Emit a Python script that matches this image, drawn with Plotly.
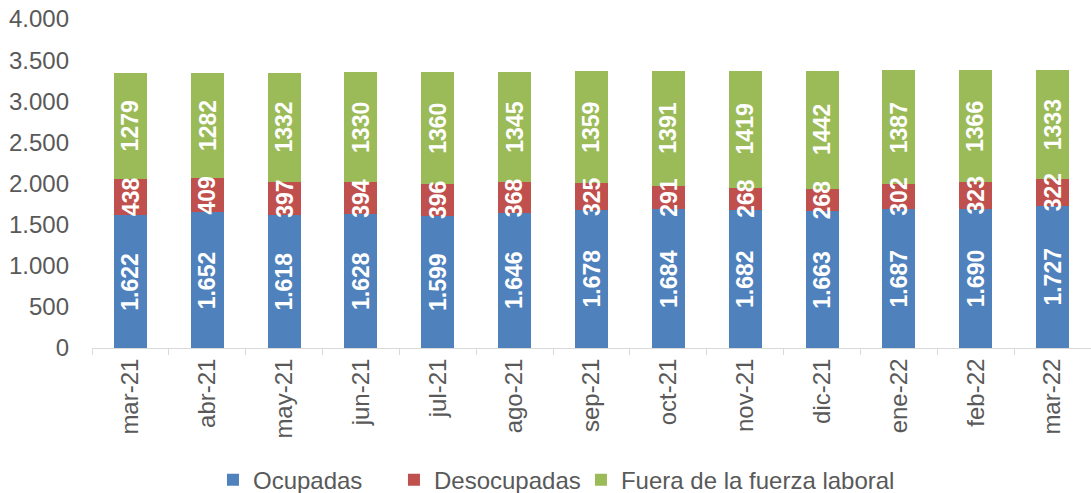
import plotly.graph_objects as go

months = ["mar-21", "abr-21", "may-21", "jun-21", "jul-21", "ago-21", "sep-21",
          "oct-21", "nov-21", "dic-21", "ene-22", "feb-22", "mar-22"]
ocupadas = [1622, 1652, 1618, 1628, 1599, 1646, 1678, 1684, 1682, 1663, 1687, 1690, 1727]
desocupadas = [438, 409, 397, 394, 396, 368, 325, 291, 268, 268, 302, 323, 322]
fuera = [1279, 1282, 1332, 1330, 1360, 1345, 1359, 1391, 1419, 1442, 1387, 1366, 1333]
y_ticks = [0, 500, 1000, 1500, 2000, 2500, 3000, 3500, 4000]

series = [
    ("Ocupadas", ocupadas, "#4F81BD", 136),
    ("Desocupadas", desocupadas, "#C0504D", 142),
    ("Fuera de la fuerza laboral", fuera, "#9BBB59", None),
]

def fmt(v):
    return f"{v:,}".replace(",", ".")

FONT = "Liberation Sans, Arial, sans-serif"
fig = go.Figure()
annotations = []
base = [0] * len(months)
for i, (name, vals, color, lw) in enumerate(series):
    fig.add_trace(go.Bar(name=name, x=months, y=vals, marker_color=color,
                         marker_line_width=0, legendwidth=lw))
    for j, (m, v) in enumerate(zip(months, vals)):
        label = fmt(v) if i == 0 else str(v)
        annotations.append(dict(x=m, y=base[j] + v / 2, text=f"<b>{label}</b>",
                                showarrow=False, textangle=-90,
                                font=dict(family=FONT, size=23, color="white")))
        base[j] += v

fig.update_layout(
    barmode="stack",
    bargap=0.57,
    width=1091, height=493,
    margin=dict(l=92, r=0, t=19, b=145, autoexpand=False),
    plot_bgcolor="white", paper_bgcolor="white",
    font=dict(family=FONT, color="#595959"),
    annotations=annotations,
    showlegend=True,
    legend=dict(orientation="h", x=0.1952, xref="container", xanchor="left",
                y=0.026, yref="container", yanchor="middle",
                font=dict(size=24, color="#595959"), itemwidth=30,
                traceorder="normal", tracegroupgap=0),
)
fig.update_xaxes(showline=True, linecolor="#D9D9D9", linewidth=1,
                 ticks="outside", ticklen=6, tickcolor="#D9D9D9",
                 tickson="boundaries", tickangle=-90, automargin=False,
                 tickfont=dict(size=24, color="#595959"), showgrid=False)
fig.update_yaxes(range=[0, 4000], tickvals=y_ticks,
                 ticktext=[fmt(v) for v in y_ticks], automargin=False,
                 showgrid=False, showline=False, zeroline=False,
                 tickfont=dict(size=24, color="#595959"), ticks="",
                 ticklabelstandoff=22, ticklabeloverflow="allow")
# remove the page's default body margin so the figure fills the window exactly
fig.write_html("out.html", config={"displayModeBar": False},
               post_script="document.body.style.margin='0';")
